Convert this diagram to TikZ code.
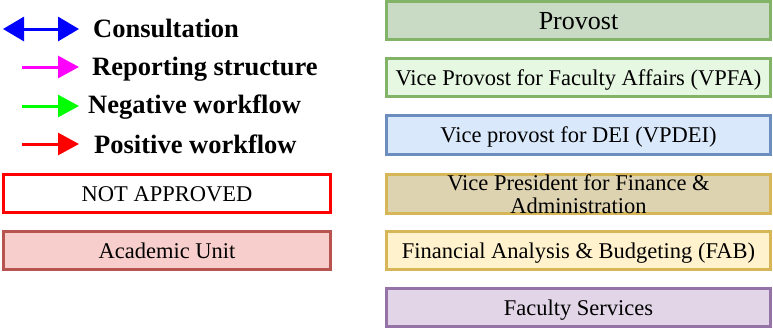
\documentclass[tikz,border=0pt]{standalone}
\usepackage{fontspec}
\setmainfont{Liberation Serif}
\usetikzlibrary{arrows.meta}
\definecolor{gstroke}{HTML}{82B366}
\definecolor{provfill}{HTML}{C9DAC5}
\definecolor{vpfafill}{HTML}{E6F7E2}
\definecolor{bstroke}{HTML}{6C8EBF}
\definecolor{bfill}{HTML}{DAE8FC}
\definecolor{ystroke}{HTML}{D6B656}
\definecolor{tanfill}{HTML}{DDD3B1}
\definecolor{yfill}{HTML}{FFF2CC}
\definecolor{pstroke}{HTML}{9673A6}
\definecolor{pfill}{HTML}{E1D5E7}
\definecolor{rstroke}{HTML}{B85450}
\definecolor{rfill}{HTML}{F8CECC}
\definecolor{legblue}{RGB}{0,0,255}
\definecolor{legmag}{RGB}{255,0,255}
\definecolor{leggreen}{RGB}{0,255,0}
\definecolor{legred}{RGB}{255,0,0}
\tikzset{
  box/.style={draw, line width=3.2pt, minimum height=38pt, inner sep=0pt,
    text height=15.6pt, text depth=0pt,
    font=\fontsize{22.5}{23.5}\selectfont},
  rbox/.style={box, minimum width=384pt},
  lbox/.style={box, minimum width=327pt},
  legtext/.style={anchor=base west, inner sep=0pt, font=\fontsize{26.5}{28}\selectfont\bfseries},
  legarrow/.style={line width=3pt, -{Triangle[length=21pt,width=22pt]}},
}
\begin{document}
\begin{tikzpicture}[x=1pt,y=-1pt]
\useasboundingbox (0,0) rectangle (773,327);
% right column
\node[rbox, fill=provfill, draw=gstroke, font=\fontsize{26}{28}\selectfont, text height=18.5pt] (prov) at (578.5,20.5) {Provost};
\node[rbox, fill=vpfafill, draw=gstroke] (vpfa) at (578.5,77.5) {Vice Provost for Faculty Affairs (VPFA)};
\node[rbox, fill=bfill, draw=bstroke, minimum height=39pt] (vpdei) at (578.5,135) {Vice provost for DEI (VPDEI)};
\node[rbox, fill=tanfill, draw=ystroke, minimum height=39pt, align=center, text height=, text depth=] (vpfin) at (578.5,194) {Vice President for Finance \&\\Administration};
\node[rbox, fill=yfill, draw=ystroke] (fab) at (578.5,250.5) {Financial Analysis \& Budgeting (FAB)};
\node[rbox, fill=pfill, draw=pstroke] (fs) at (578.5,307.5) {Faculty Services};
% left column
\node[lbox, fill=white, draw=legred, line width=2.2pt] (na) at (167,193.5) {NOT APPROVED};
\node[lbox, fill=rfill, draw=rstroke, line width=3.4pt] (au) at (167,250.5) {Academic Unit};
% legend
\coordinate (c1a) at (3,29);  \coordinate (c1b) at (79,29);
\coordinate (c2a) at (22,67); \coordinate (c2b) at (79,67);
\coordinate (c3a) at (22,106); \coordinate (c3b) at (79,106);
\coordinate (c4a) at (22,144); \coordinate (c4b) at (79,144);
\draw[legarrow, legblue, {Triangle[length=21pt,width=24pt]}-{Triangle[length=21pt,width=24pt]}] (c1a) -- (c1b);
\draw[legarrow, legmag] (c2a) -- (c2b);
\draw[legarrow, leggreen] (c3a) -- (c3b);
\draw[legarrow, legred] (c4a) -- (c4b);
\node[legtext] (l1) at (93,37) {Consultation};
\node[legtext] (l2) at (92,75) {Reporting structure};
\node[legtext] (l3) at (88,113) {Negative workflow};
\node[legtext] (l4) at (94,153) {Positive workflow};
\end{tikzpicture}
\end{document}
